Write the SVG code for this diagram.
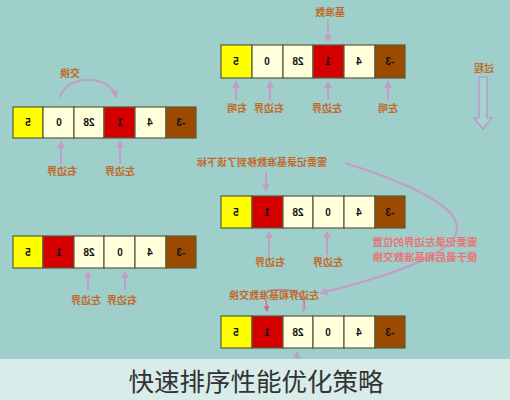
<svg xmlns="http://www.w3.org/2000/svg" width="510" height="400" viewBox="0 0 510 400">
<defs>
<marker id="ah" viewBox="0 0 10 10" refX="8" refY="5" markerWidth="4" markerHeight="4" orient="auto">
<path d="M0,0 L10,5 L0,10 z" fill="#c49cc6"/>
</marker>
<marker id="ah2" viewBox="0 0 10 10" refX="8" refY="5" markerWidth="4" markerHeight="4" orient="auto">
<path d="M0,0 L10,5 L0,10 z" fill="#d36a8a"/>
</marker>
</defs>
<style>
.y{fill:#ffff00}.c{fill:#ffffdc}.r{fill:#d40000}.b{fill:#9c4a00}
rect.cell{stroke:#5a5a3c;stroke-width:1.2}
.n{font-family:"Liberation Sans",Arial,sans-serif;font-size:10px;font-weight:bold;fill:#111;text-anchor:middle}
.l{font-family:"Noto Sans CJK SC","Noto Sans",sans-serif;font-size:10px;font-weight:bold;fill:#c26a2a;text-anchor:middle}
.p{font-family:"Noto Sans CJK SC","Noto Sans",sans-serif;font-size:10.5px;font-weight:bold;fill:#ea7474;text-anchor:middle}
.a{stroke:#c49cc6;stroke-width:2;fill:none;marker-end:url(#ah)}
.cap{font-family:"Noto Sans CJK SC","Noto Sans",sans-serif;font-size:25.5px;fill:#333;text-anchor:middle}
</style>
<rect width="510" height="400" fill="#9ecfca"/>

<g id="row1">
<rect class="cell y" x="221" y="45" width="31" height="33"/>
<rect class="cell c" x="252" y="45" width="31" height="33"/>
<rect class="cell c" x="283" y="45" width="30" height="33"/>
<rect class="cell r" x="313" y="45" width="31" height="33"/>
<rect class="cell c" x="344" y="45" width="31" height="33"/>
<rect class="cell b" x="375" y="45" width="30" height="33"/>
<text class="n" transform="translate(236,65) scale(-1,1)">5</text>
<text class="n" transform="translate(267,65) scale(-1,1)">0</text>
<text class="n" transform="translate(298,65) scale(-1,1)">28</text>
<text class="n" transform="translate(328,65) scale(-1,1)">1</text>
<text class="n" transform="translate(359,65) scale(-1,1)">4</text>
<text class="n" transform="translate(390,65) scale(-1,1)">-3</text>
</g>

<g id="row2">
<rect class="cell y" x="13" y="107" width="30" height="31"/>
<rect class="cell c" x="43" y="107" width="31" height="31"/>
<rect class="cell c" x="74" y="107" width="30" height="31"/>
<rect class="cell r" x="104" y="107" width="31" height="31"/>
<rect class="cell c" x="135" y="107" width="31" height="31"/>
<rect class="cell b" x="166" y="107" width="30" height="31"/>
<text class="n" transform="translate(28,126) scale(-1,1)">5</text>
<text class="n" transform="translate(59,126) scale(-1,1)">0</text>
<text class="n" transform="translate(89,126) scale(-1,1)">28</text>
<text class="n" transform="translate(120,126) scale(-1,1)">1</text>
<text class="n" transform="translate(150,126) scale(-1,1)">4</text>
<text class="n" transform="translate(181,126) scale(-1,1)">-3</text>
</g>

<g id="row3">
<rect class="cell y" x="221" y="196" width="31" height="32"/>
<rect class="cell r" x="252" y="196" width="31" height="32"/>
<rect class="cell c" x="283" y="196" width="30" height="32"/>
<rect class="cell c" x="313" y="196" width="31" height="32"/>
<rect class="cell c" x="344" y="196" width="31" height="32"/>
<rect class="cell b" x="375" y="196" width="30" height="32"/>
<text class="n" transform="translate(236,216) scale(-1,1)">5</text>
<text class="n" transform="translate(267,216) scale(-1,1)">1</text>
<text class="n" transform="translate(298,216) scale(-1,1)">28</text>
<text class="n" transform="translate(328,216) scale(-1,1)">0</text>
<text class="n" transform="translate(359,216) scale(-1,1)">4</text>
<text class="n" transform="translate(390,216) scale(-1,1)">-3</text>
</g>

<g id="row4">
<rect class="cell y" x="13" y="236" width="30" height="32"/>
<rect class="cell r" x="43" y="236" width="31" height="32"/>
<rect class="cell c" x="74" y="236" width="30" height="32"/>
<rect class="cell c" x="104" y="236" width="31" height="32"/>
<rect class="cell c" x="135" y="236" width="31" height="32"/>
<rect class="cell b" x="166" y="236" width="30" height="32"/>
<text class="n" transform="translate(28,256) scale(-1,1)">5</text>
<text class="n" transform="translate(59,256) scale(-1,1)">1</text>
<text class="n" transform="translate(89,256) scale(-1,1)">28</text>
<text class="n" transform="translate(120,256) scale(-1,1)">0</text>
<text class="n" transform="translate(150,256) scale(-1,1)">4</text>
<text class="n" transform="translate(181,256) scale(-1,1)">-3</text>
</g>

<g id="row5">
<rect class="cell y" x="221" y="316" width="31" height="32"/>
<rect class="cell r" x="252" y="316" width="31" height="32"/>
<rect class="cell c" x="283" y="316" width="30" height="32"/>
<rect class="cell c" x="313" y="316" width="31" height="32"/>
<rect class="cell c" x="344" y="316" width="31" height="32"/>
<rect class="cell b" x="375" y="316" width="30" height="32"/>
<text class="n" transform="translate(236,336) scale(-1,1)">5</text>
<text class="n" transform="translate(267,336) scale(-1,1)">1</text>
<text class="n" transform="translate(298,336) scale(-1,1)">28</text>
<text class="n" transform="translate(328,336) scale(-1,1)">0</text>
<text class="n" transform="translate(359,336) scale(-1,1)">4</text>
<text class="n" transform="translate(390,336) scale(-1,1)">-3</text>
</g>

<g id="process">
<path d="M479,77 L487,77 L487,118 L492,118 L483,129 L474,118 L479,118 Z" fill="#a8d4d0" stroke="#b89cc6" stroke-width="1.5"/>
<text class="l" transform="translate(484,72) scale(-1,1)">过程</text>
</g>

<g id="connectors">
<line class="a" x1="328" y1="20" x2="328" y2="41"/>
<line class="a" x1="236" y1="100" x2="236" y2="82"/>
<line class="a" x1="270" y1="100" x2="270" y2="82"/>
<line class="a" x1="328" y1="100" x2="328" y2="82"/>
<line class="a" x1="388" y1="100" x2="388" y2="82"/>
<path class="a" d="M60,97 C66,74 110,74 116,97"/>
<line class="a" x1="61" y1="164" x2="61" y2="142"/>
<line class="a" x1="120" y1="164" x2="120" y2="142"/>
<line class="a" x1="266" y1="172" x2="266" y2="190"/>
<line class="a" x1="269" y1="255" x2="269" y2="232"/>
<line class="a" x1="327" y1="255" x2="327" y2="232"/>
<line class="a" x1="88" y1="290" x2="88" y2="272"/>
<line class="a" x1="125" y1="290" x2="125" y2="272"/>
<path class="a" d="M345,163 C498,212 498,249 321,293"/>
<path class="a" style="stroke:#d36a8a;stroke-width:1.5;marker-end:url(#ah2)" d="M266,300 L267,311"/>
<path class="a" style="stroke:#c07aa0;stroke-width:1.5" d="M268,291 C298,286 308,296 303,311"/>
<line class="a" x1="297" y1="370" x2="297" y2="352"/>
</g>

<g id="labels">
<text class="l" transform="translate(330,16) scale(-1,1)">基准数</text>
<text class="l" transform="translate(237,112) scale(-1,1)">右哨</text>
<text class="l" transform="translate(269,112) scale(-1,1)">右边界</text>
<text class="l" transform="translate(327,112) scale(-1,1)">左边界</text>
<text class="l" transform="translate(388,112) scale(-1,1)">左哨</text>
<text class="l" transform="translate(70,77) scale(-1,1)">交换</text>
<text class="l" transform="translate(62,175) scale(-1,1)">右边界</text>
<text class="l" transform="translate(120,175) scale(-1,1)">左边界</text>
<text class="l" transform="translate(262,166) scale(-1,1)">需要记录基准数移到了该下标</text>
<text class="l" transform="translate(270,266) scale(-1,1)">右边界</text>
<text class="l" transform="translate(328,266) scale(-1,1)">左边界</text>
<text class="p" transform="translate(425,246) scale(-1,1)">需要记录左边界的位置</text>
<text class="p" transform="translate(425,261) scale(-1,1)">便于最后和基准数交换</text>
<text class="l" transform="translate(86,304) scale(-1,1)">左边界</text>
<text class="l" transform="translate(122,304) scale(-1,1)">右边界</text>
<text class="l" transform="translate(274,299) scale(-1,1)">左边界和基准数交换</text>
</g>

<g id="caption">
<rect x="0" y="359" width="510" height="41" fill="#d8ecea"/>
<text class="cap" x="256" y="391">快速排序性能优化策略</text>
</g>
</svg>
